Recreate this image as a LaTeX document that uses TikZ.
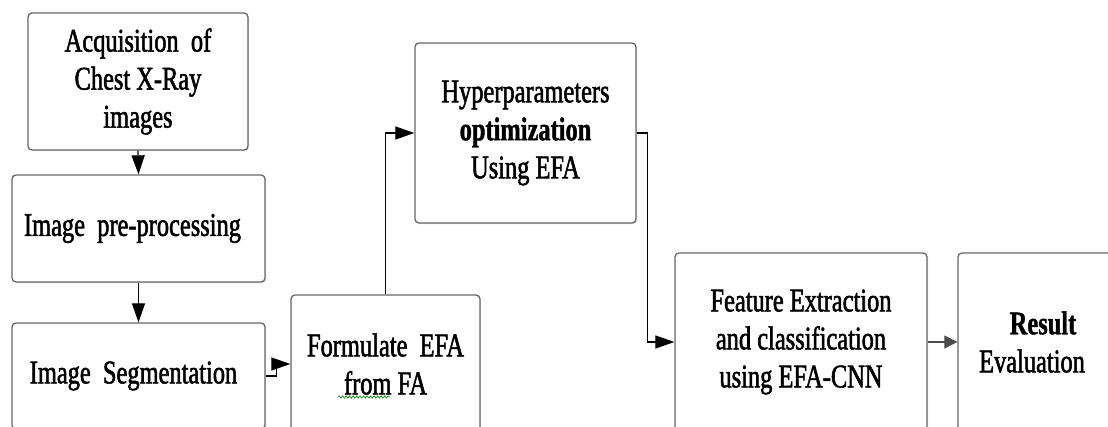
\documentclass[tikz,border=0pt]{standalone}
\usepackage{fontspec}
\setmainfont{Liberation Serif}[FakeStretch=0.74, UprightFeatures={FakeBold=1.6}, BoldFeatures={FakeBold=1.2}]
\usetikzlibrary{arrows.meta,decorations.pathmorphing,shadows}
\begin{document}
\begin{tikzpicture}[x=1pt,y=-1pt,
  box/.style={draw=black!60, line width=1.3pt, rounded corners=4pt, fill=white,
    inner sep=0pt, align=center, font=\fontsize{33}{38}\selectfont,
    drop shadow={opacity=0.25, shadow xshift=1.2pt, shadow yshift=-1.2pt}},
  arr/.style={draw=black, line width=1.2pt, -{Triangle[length=19pt,width=13pt]}},
  garr/.style={draw=black!70, line width=1.2pt, -{Triangle[length=13pt,width=13pt]}}]
\clip (0,0) rectangle (1108,427);
\fill[white] (0,0) rectangle (1108,427);
\node[box, minimum width=220pt, minimum height=137pt] (acq) at (138,81.5)
  {Acquisition\ \ of\\Chest X-Ray\\images};
\node[box, minimum width=253pt, minimum height=107pt] (pre) at (138.5,228.5)
  {Image\ \ pre-processing\hspace*{12pt}};
\node[box, minimum width=253pt, minimum height=106pt] (seg) at (138.5,376)
  {Image\ \ Segmentation\hspace*{10pt}};
\node[box, minimum width=189pt, minimum height=138pt] (form) at (385.5,364)
  {Formulate\ \ EFA\\from FA};
\node[box, minimum width=221pt, minimum height=180pt] (hyp) at (525.5,133)
  {Hyperparameters\\\textbf{optimization}\\Using EFA};
\node[box, minimum width=252pt, minimum height=178pt] (feat) at (801,342)
  {Feature\ Extraction\\and classification\\using EFA-CNN};
\node[box, minimum width=160pt, minimum height=178pt] (res) at (1038,342)
  {\hspace*{10pt}\textbf{Result}\\Evaluation\hspace*{12pt}};
\draw[green!55!black, line width=0.6pt, decorate,
  decoration={snake, amplitude=1.2pt, segment length=3.5pt}] (338,397) -- (390,397);
\draw[arr] (acq.south) -- (pre.north);
\draw[arr] (pre.south) -- (seg.north);
\draw[arr] (seg.east) -- ++(11,0) |- (form.west);
\draw[arr] (form.north) |- (hyp.west);
\draw[arr] (hyp.east) -- ++(11,0) |- (feat.west);
\draw[garr] (feat.east) -- (res.west);
\end{tikzpicture}
\end{document}
